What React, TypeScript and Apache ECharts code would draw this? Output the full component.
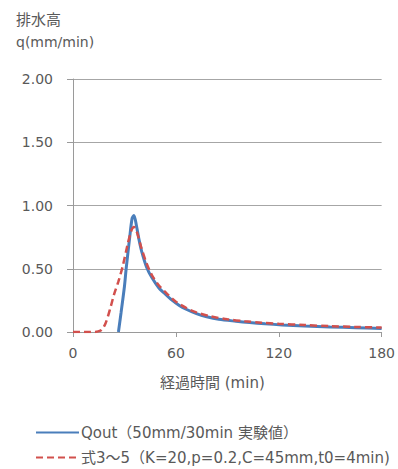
import React, { useEffect, useRef } from "react";
import * as echarts from "echarts";

const yTicks = [0, 0.5, 1.0, 1.5, 2.0];
const xTicks = [0, 60, 120, 180];

const qoutT = [26.5, 28, 30, 31, 33, 34.5, 35.5, 37, 38.5, 40, 43, 46, 50, 53, 57, 62, 66, 72, 78, 85, 95, 103, 112, 122, 135, 150, 165, 180];
const qoutV = [0, 0.15, 0.36, 0.5, 0.74, 0.9, 0.92, 0.84, 0.73, 0.64, 0.51, 0.43, 0.35, 0.31, 0.26, 0.21, 0.18, 0.145, 0.12, 0.1, 0.085, 0.075, 0.065, 0.056, 0.047, 0.04, 0.034, 0.028];

const calcT = [0, 10, 16, 19, 22, 24, 26.5, 29, 32, 34, 35.5, 37, 40, 43, 46, 50, 55, 60, 66, 72, 80, 90, 100, 110, 120, 135, 150, 165, 180];
const calcV = [0, 0, 0.01, 0.07, 0.2, 0.3, 0.4, 0.52, 0.7, 0.8, 0.83, 0.8, 0.66, 0.54, 0.45, 0.37, 0.3, 0.24, 0.19, 0.155, 0.125, 0.1, 0.085, 0.074, 0.065, 0.055, 0.046, 0.04, 0.035];

const seriesNames = ["Qout（50mm/30min 実験値）", "式3～5（K=20,p=0.2,C=45mm,t0=4min)"];
const yTitle = ["排水高", "q(mm/min)"];
const xTitle = "経過時間 (min)";

const FONT = "DejaVu Sans, Noto Sans CJK JP, sans-serif";
const TEXT = "#595959";

export default function App() {
  const ref = useRef<HTMLDivElement>(null);
  useEffect(() => {
    if (!ref.current) return;
    const chart = echarts.init(ref.current, undefined, { renderer: "svg" });
    chart.setOption({
      animation: false,
      backgroundColor: "#ffffff",
      textStyle: { fontFamily: FONT, color: TEXT },
      grid: { left: 73, right: 5, top: 79, bottom: 137, containLabel: false },
      xAxis: {
        type: "value",
        min: 0,
        max: 180,
        interval: 60,
        axisLine: { show: true, lineStyle: { color: "#9a9a9a", width: 1 } },
        axisTick: { show: true, inside: false, length: 5, lineStyle: { color: "#9a9a9a" } },
        splitLine: { show: false },
        axisLabel: { margin: 14, fontSize: 14, color: TEXT, fontFamily: FONT, showMaxLabel: true },
      },
      yAxis: {
        type: "value",
        min: 0,
        max: 2,
        interval: 0.5,
        axisLine: { show: true, lineStyle: { color: "#9a9a9a", width: 1 } },
        axisTick: { show: true, inside: false, length: 6, lineStyle: { color: "#9a9a9a" } },
        splitLine: { show: true, lineStyle: { color: "#a6a6a6", width: 1 } },
        axisLabel: {
          margin: 20,
          fontSize: 14,
          color: TEXT,
          fontFamily: FONT,
          formatter: (v: number) => v.toFixed(2),
        },
      },
      legend: {
        orient: "vertical",
        left: 35,
        top: 425,
        itemWidth: 43,
        itemHeight: 12,
        itemGap: 10,
        padding: 0,
        itemStyle: { opacity: 0 },
        textStyle: { fontSize: 15, color: TEXT, fontFamily: FONT, padding: [0, 0, 0, -3] },
        data: seriesNames.map((n) => ({ name: n })),
      },
      graphic: [
        { type: "text", left: 16, top: 12, style: { text: yTitle[0], fontSize: 15, fill: TEXT, fontFamily: FONT } },
        { type: "text", left: 16, top: 35, style: { text: yTitle[1], fontSize: 14, fill: TEXT, fontFamily: FONT } },
        { type: "text", left: 160, top: 375, style: { text: xTitle, fontSize: 15, fill: TEXT, fontFamily: FONT } },
      ],
      series: [
        {
          name: seriesNames[0],
          type: "line",
          symbol: "none",
          smooth: 0.3,
          data: qoutT.map((t, i) => [t, qoutV[i]]),
          lineStyle: { color: "#4a7ebb", width: 3 },
          itemStyle: { color: "#4a7ebb" },
        },
        {
          name: seriesNames[1],
          type: "line",
          symbol: "none",
          smooth: 0.3,
          data: calcT.map((t, i) => [t, calcV[i]]),
          lineStyle: { color: "#d2504d", width: 2.5, type: [7, 4] },
          itemStyle: { color: "#d2504d" },
        },
      ],
    });
    return () => chart.dispose();
  }, []);
  return <div ref={ref} style={{ position: "fixed", left: 0, top: 0, width: 398, height: 469 }} />;
}
